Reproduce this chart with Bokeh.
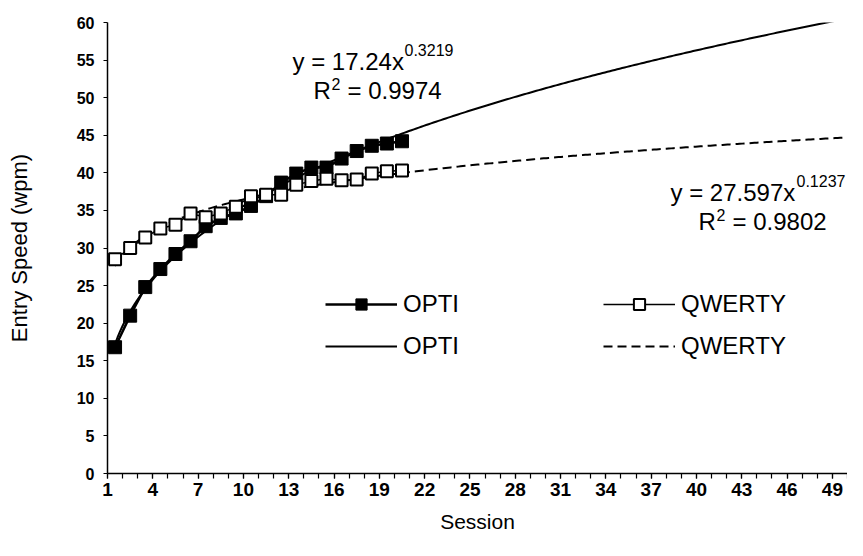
import numpy as np
from bokeh.plotting import figure
from bokeh.models import FixedTicker, Range1d, Legend, LegendItem, Label
from bokeh.embed import file_html
from bokeh.resources import INLINE

# ---- data ----
sessions = list(range(1, 21))
opti = [16.8, 21.0, 24.8, 27.2, 29.2, 30.9, 32.9, 34.0, 34.6, 35.6,
        36.9, 38.7, 39.9, 40.7, 40.7, 41.9, 42.9, 43.6, 43.9, 44.2]
qwerty = [28.5, 30.0, 31.4, 32.6, 33.1, 34.6, 34.1, 34.6, 35.5, 36.9,
          37.1, 37.1, 38.4, 38.9, 39.2, 39.0, 39.1, 39.9, 40.2, 40.3]

# power trendlines as printed on the chart: y = a * x^b
opti_a, opti_b = 17.24, 0.3219
qwerty_a, qwerty_b = 27.597, 0.1237
trend_start, trend_end = 1, 49.5

x_labels = [1, 4, 7, 10, 13, 16, 19, 22, 25, 28, 31, 34, 37, 40, 43, 46, 49]
y_ticks = [0, 5, 10, 15, 20, 25, 30, 35, 40, 45, 50, 55, 60]
n_categories = 49

FONT = "Liberation Sans"

trend_x = np.linspace(trend_start, trend_end, 300)
opti_trend = opti_a * trend_x ** opti_b
qwerty_trend = qwerty_a * trend_x ** qwerty_b

FL, FT, FB = 107, 22, 473          # frame left / top / bottom in canvas px
W, H = 847, 540
p = figure(width=W, height=H, output_backend="svg", toolbar_location=None,
           x_range=Range1d(0.5, n_categories + 0.5), y_range=Range1d(0, 60),
           min_border_left=FL, min_border_right=0, min_border_top=FT,
           min_border_bottom=H - FB)
p.outline_line_color = None
p.grid.visible = False
p.background_fill_color = "white"
p.border_fill_color = "white"

# ---- axes ----
xa = p.xaxis[0]
major = [lbl - 0.5 for lbl in x_labels]
xa.ticker = FixedTicker(ticks=major,
                        minor_ticks=[i + 0.5 for i in range(n_categories + 1)])
xa.major_label_overrides = {m: str(l) for m, l in zip(major, x_labels)}
xa.axis_label = "Session"
xa.axis_label_text_font = FONT
xa.axis_label_text_font_size = "21px"
xa.axis_label_text_font_style = "normal"
xa.axis_label_standoff = 11
xa.major_label_text_font = FONT
xa.major_label_text_font_size = "19px"
xa.major_label_text_font_style = "bold"
xa.major_label_standoff = 4
xa.major_tick_out = 5
xa.major_tick_in = 0
xa.minor_tick_out = 5
xa.minor_tick_in = 0
xa.axis_line_width = 1.5
xa.major_tick_line_width = 1.2
xa.minor_tick_line_width = 1.2

ya = p.yaxis[0]
ya.ticker = FixedTicker(ticks=y_ticks)
ya.axis_label = "Entry Speed (wpm)"
ya.axis_label_text_font = FONT
ya.axis_label_text_font_size = "22px"
ya.axis_label_text_font_style = "normal"
ya.axis_label_standoff = 42
ya.major_label_text_font = FONT
ya.major_label_text_font_size = "16px"
ya.major_label_text_font_style = "bold"
ya.major_label_standoff = 9
ya.major_tick_out = 4
ya.major_tick_in = 0
ya.minor_tick_line_color = None
ya.axis_line_width = 1.5
ya.major_tick_line_width = 1.2

for ax in (xa, ya):
    ax.axis_line_color = "black"
    ax.major_tick_line_color = "black"
    ax.major_label_text_color = "black"
    ax.axis_label_text_color = "black"
xa.minor_tick_line_color = "black"

# ---- glyphs ----
r_ot = p.line(trend_x, opti_trend, line_color="black", line_width=2)
r_qt = p.line(trend_x, qwerty_trend, line_color="black", line_width=2,
              line_dash="9 5")
r_ol = p.line(sessions, opti, line_color="black", line_width=2.5)
r_os = p.scatter(sessions, opti, marker="square", size=13,
                 fill_color="black", line_color="black")
r_ql = p.line(sessions, qwerty, line_color="black", line_width=1.5)
r_qs = p.scatter(sessions, qwerty, marker="square", size=12,
                 fill_color="white", line_color="black", line_width=2)

# ---- legends (two columns) ----
def make_legend(items, loc):
    lg = Legend(items=items, location=loc, orientation="vertical")
    lg.label_text_font = FONT
    lg.label_text_font_size = "24px"
    lg.label_text_color = "black"
    lg.glyph_width = 72
    lg.glyph_height = 28
    lg.label_height = 28
    lg.label_standoff = 6
    lg.spacing = 14
    lg.padding = 0
    lg.margin = 0
    lg.border_line_color = None
    lg.background_fill_alpha = 0
    return lg

leg1 = make_legend([LegendItem(label="OPTI", renderers=[r_ol, r_os]),
                    LegendItem(label="OPTI", renderers=[r_ot])], (218, 113))
leg2 = make_legend([LegendItem(label="QWERTY", renderers=[r_ql, r_qs]),
                    LegendItem(label="QWERTY", renderers=[r_qt])], (496, 113))
p.add_layout(leg1, "center")
p.add_layout(leg2, "center")

# ---- trendline equations ----
XSCALE = (W - FL) / n_categories
YSCALE = (FB - FT) / 60.0

def px_to_x(px):
    return 0.5 + (px - FL) / XSCALE

def py_to_y(py):
    return (FB - py) / YSCALE

def add_label(txt, px, py, size):
    p.add_layout(Label(x=px_to_x(px), y=py_to_y(py), text=txt,
                       text_font=FONT, text_font_size=size,
                       text_color="black", text_baseline="middle",
                       text_align="left"))

add_label("y = 17.24x", 292, 61, "24px")
add_label("0.3219", 404, 49, "16px")
add_label("R", 313, 90, "24px")
add_label("2", 331, 83, "16px")
add_label("= 0.9974", 347, 90, "24px")

add_label("y = 27.597x", 670, 192, "24px")
add_label("0.1237", 796, 180, "16px")
add_label("R", 698, 221, "24px")
add_label("2", 716, 214, "16px")
add_label("= 0.9802", 732, 221, "24px")

open("out.html", "w").write(file_html(p, INLINE))
